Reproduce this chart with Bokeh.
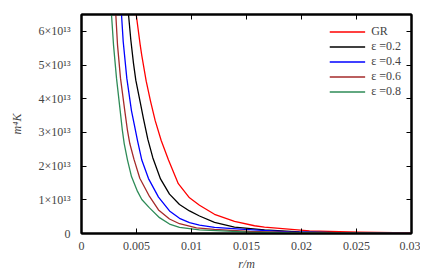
from bokeh.plotting import figure
from bokeh.models import Range1d, FixedTicker, LinearAxis, Legend, LegendItem
from bokeh.embed import file_html
from bokeh.resources import INLINE

SCALE = 1e13

# ---- data (K in units of 1e13) ----
r_gr = [0.004973, 0.005336, 0.005482, 0.005882, 0.006273, 0.0067, 0.007245, 0.007909, 0.0088,
        0.009818, 0.010727, 0.012091, 0.013909, 0.015727, 0.016636, 0.020727, 0.025273, 0.03]
k_gr = [6.5, 5.6, 5.28, 4.52, 3.93, 3.35, 2.76, 2.18, 1.48,
        1.06, 0.84, 0.57, 0.36, 0.23, 0.19, 0.08, 0.04, 0.015]

r_e02 = [0.004273, 0.004482, 0.004727, 0.004936, 0.005336, 0.005636, 0.006027, 0.006482, 0.007182,
         0.008, 0.008909, 0.009818, 0.010727, 0.012091, 0.013909, 0.016636, 0.019818, 0.024364, 0.03]
k_e02 = [6.5, 5.75, 5.05, 4.55, 3.9, 3.4, 2.8, 2.25, 1.62,
         1.17, 0.86, 0.67, 0.52, 0.33, 0.19, 0.11, 0.05, 0.02, 0.005]

r_e04 = [0.003636, 0.003791, 0.004118, 0.004545, 0.004818, 0.005091, 0.005482, 0.006091, 0.007,
         0.008, 0.008909, 0.009818, 0.010727, 0.012091, 0.014818, 0.018909, 0.024364, 0.03]
k_e04 = [6.5, 5.7, 4.61, 3.64, 3.2, 2.76, 2.18, 1.63, 1.08,
         0.67, 0.45, 0.32, 0.25, 0.18, 0.12, 0.05, 0.015, 0.003]

r_e06 = [0.003118, 0.003273, 0.003545, 0.003936, 0.004182, 0.004391, 0.004773, 0.0053, 0.006182,
         0.007, 0.008, 0.008909, 0.010455, 0.012091, 0.015273, 0.019818, 0.03]
k_e06 = [6.5, 5.6, 4.61, 3.64, 3.05, 2.67, 2.2, 1.64, 1.1,
         0.7, 0.43, 0.29, 0.17, 0.12, 0.06, 0.025, 0.002]

r_e08 = [0.002727, 0.002909, 0.003182, 0.003518, 0.0037, 0.003882, 0.004182, 0.004545, 0.005091,
         0.005482, 0.006182, 0.007091, 0.008, 0.008909, 0.010727, 0.015273, 0.019818, 0.03]
k_e08 = [6.5, 5.6, 4.61, 3.64, 3.1, 2.67, 2.18, 1.69, 1.25,
         1.01, 0.76, 0.47, 0.28, 0.18, 0.11, 0.04, 0.015, 0.001]

series_labels = ["GR", "\u03b5 =0.2", "\u03b5 =0.4", "\u03b5 =0.6", "\u03b5 =0.8"]
series_colors = ["#ff0000", "#000000", "#0000ff", "#a52a2a", "#2e8b57"]

x_ticks = [0, 0.005, 0.01, 0.015, 0.02, 0.025, 0.03]
x_tick_labels = ["0", "0.005", "0.01", "0.015", "0.02", "0.025", "0.03"]
y_ticks = [0, 1, 2, 3, 4, 5, 6]
y_tick_labels = ["0", "1\u00d710\u00b9\u00b3", "2\u00d710\u00b9\u00b3", "3\u00d710\u00b9\u00b3",
                 "4\u00d710\u00b9\u00b3", "5\u00d710\u00b9\u00b3", "6\u00d710\u00b9\u00b3"]

FONT = "Liberation Serif"

p = figure(width=420, height=273, output_backend="svg", toolbar_location=None,
           x_range=Range1d(0, 0.03), y_range=Range1d(0, 6.5 * SCALE),
           min_border_left=81, min_border_right=9, min_border_top=14, min_border_bottom=21)
p.grid.visible = False
p.outline_line_color = "black"
p.outline_line_width = 2
p.background_fill_color = "white"

def style_axis(ax, show_labels=True):
    ax.major_tick_in = 5
    ax.major_tick_out = 0
    ax.minor_tick_line_color = None
    ax.axis_line_width = 2
    ax.major_tick_line_width = 1
    ax.major_label_text_font = FONT
    ax.major_label_text_font_size = "12px" if show_labels else "0px"
    ax.axis_label_text_font = FONT
    ax.axis_label_text_font_size = "12px"
    ax.axis_label_text_font_style = "italic"

xa = p.xaxis[0]
xa.ticker = FixedTicker(ticks=[t for t in x_ticks])
xa.major_label_overrides = {t: l for t, l in zip(x_ticks, x_tick_labels)}
style_axis(xa)
xa.major_label_standoff = 8
xa.axis_label = "r/m"
xa.axis_label_standoff = 4

ya = p.yaxis[0]
ya.ticker = FixedTicker(ticks=[t * SCALE for t in y_ticks])
ya.major_label_overrides = {t * SCALE: l for t, l in zip(y_ticks, y_tick_labels)}
style_axis(ya)
ya.major_label_standoff = 11
ya.axis_label = "m\u2074K"
ya.axis_label_standoff = 12

top = LinearAxis(ticker=FixedTicker(ticks=x_ticks))
style_axis(top, show_labels=False)
top.major_label_standoff = 0
top.major_label_overrides = {t: "" for t in x_ticks}
p.add_layout(top, "above")

right = LinearAxis(ticker=FixedTicker(ticks=[t * SCALE for t in y_ticks]))
style_axis(right, show_labels=False)
right.major_label_standoff = 0
right.major_label_overrides = {t * SCALE: "" for t in y_ticks}
p.add_layout(right, "right")

all_r = [r_gr, r_e02, r_e04, r_e06, r_e08]
all_k = [k_gr, k_e02, k_e04, k_e06, k_e08]
items = []
for rs, ks, lab, col in zip(all_r, all_k, series_labels, series_colors):
    rr = p.line(rs, [k * SCALE for k in ks], line_color=col, line_width=1.3,
                line_join="round")
    items.append(LegendItem(label=lab, renderers=[rr]))

legend = Legend(items=items, location="top_right")
legend.border_line_color = None
legend.background_fill_alpha = 0
legend.label_text_font = FONT
legend.label_text_font_size = "12px"
legend.label_height = 11
legend.glyph_height = 11
legend.glyph_width = 36
legend.spacing = 0
legend.padding = 2
legend.margin = 10
legend.label_standoff = 6
p.add_layout(legend)

open("out.html", "w").write(file_html(p, INLINE))
